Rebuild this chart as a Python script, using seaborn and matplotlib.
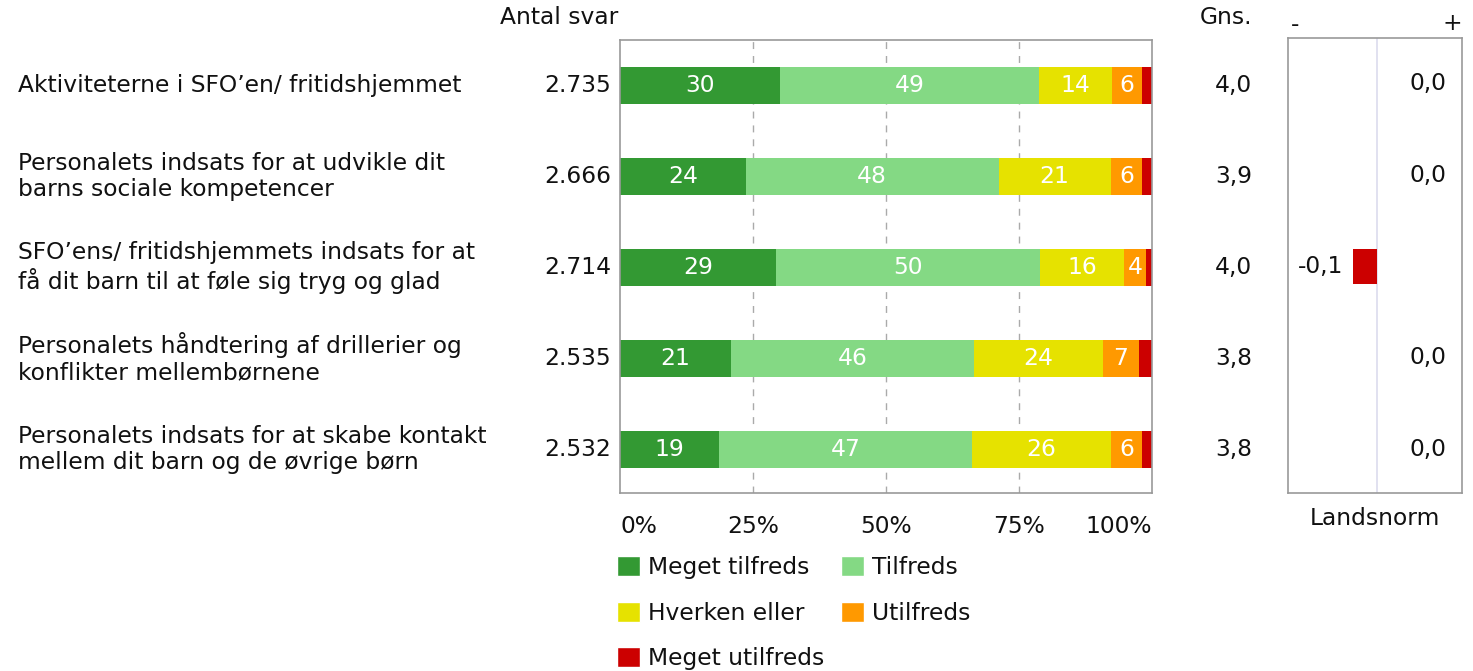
import numpy as np
import pandas as pd
import seaborn as sns
import matplotlib.pyplot as plt
import matplotlib.transforms as mtransforms
from matplotlib.patches import Patch

sns.set_style("white")
plt.rcParams['font.family'] = ['DejaVu Sans']
plt.rcParams['text.color'] = '#111111'
plt.rcParams['xtick.color'] = '#111111'
plt.rcParams['axes.labelcolor'] = '#111111'

# data
questions = [
    "Aktiviteterne i SFO\u2019en/ fritidshjemmet",
    "Personalets indsats for at udvikle dit\nbarns sociale kompetencer",
    "SFO\u2019ens/ fritidshjemmets indsats for at\nf\u00e5 dit barn til at f\u00f8le sig tryg og glad",
    "Personalets h\u00e5ndtering af drillerier og\nkonflikter mellemb\u00f8rnene",
    "Personalets indsats for at skabe kontakt\nmellem dit barn og de \u00f8vrige b\u00f8rn",
]
categories = ["Meget tilfreds", "Tilfreds", "Hverken eller", "Utilfreds", "Meget utilfreds"]
meget_tilfreds = [30.0, 23.6, 29.3, 20.8, 18.7]
tilfreds = [48.8, 47.6, 49.6, 45.8, 47.4]
hverken = [13.6, 21.0, 15.9, 24.2, 26.2]
utilfreds = [5.8, 6.0, 4.1, 6.7, 5.9]
meget_utilfreds = [1.8, 1.8, 1.1, 2.5, 1.8]
antal_svar = [2735, 2666, 2714, 2535, 2532]
gns = [4.0, 3.9, 4.0, 3.8, 3.8]
landsnorm = [0.0, 0.0, -0.1, 0.0, 0.0]

colors = ["#339933", "#84d984", "#e6e200", "#ff9900", "#cc0000"]
ticks = [0, 25, 50, 75, 100]
tick_labels = ["0%", "25%", "50%", "75%", "100%"]

FS = 16.8
W, H = 1473, 671
fig = plt.figure(figsize=(W / 100, H / 100), dpi=100)

def fx(px):
    return px / W

def fy(py):
    return 1 - py / H

ax = fig.add_axes([fx(620), fy(493), fx(1152) - fx(620), fy(40) - fy(493)])
axn = fig.add_axes([fx(1288), fy(493), fx(1462) - fx(1288), fy(38) - fy(493)])

series = [meget_tilfreds, tilfreds, hverken, utilfreds, meget_utilfreds]
df = pd.DataFrame({c: s for c, s in zip(categories, series)})
df["q"] = [f"q{i}" for i in range(len(questions))]
cum = df[categories].cumsum(axis=1)

# stacked bars: draw cumulative totals from the longest back to the front
for cat, col in reversed(list(zip(categories, colors))):
    sns.barplot(x=cum[cat], y=df["q"], orient="h", color=col, saturation=1,
                width=0.4, ax=ax, linewidth=0)

for i in range(len(df)):
    for cat in categories:
        v = df.loc[i, cat]
        if v >= 3:
            ax.text(cum.loc[i, cat] - v / 2, i, f"{int(round(v))}", ha="center",
                    va="center", color="white", fontsize=FS)

ax.set_xlim(0, 100)
ax.set_ylim(4.48, -0.5)
ax.set_xlabel("")
ax.set_ylabel("")
ax.set_yticks([])
ax.set_xticks(ticks)
ax.set_xticklabels(tick_labels, fontsize=FS)
for lab, ha in zip(ax.get_xticklabels(), ["left", "center", "center", "center", "right"]):
    lab.set_ha(ha)
ax.tick_params(axis="x", length=0, pad=16)
for t in ticks[1:-1]:
    ax.axvline(t, color="#aaaaaa", linestyle=(0, (5, 5)), linewidth=1, zorder=0)
for sp in ax.spines.values():
    sp.set_color("#999999")
    sp.set_linewidth(1.2)

# landsnorm panel
ln = pd.DataFrame({"q": df["q"], "diff": landsnorm})
sns.barplot(data=ln, x="diff", y="q", orient="h", color="#cc0000", saturation=1,
            width=0.38, ax=axn, linewidth=0)
axn.set_xlim(-0.37, 0.355)
axn.set_ylim(4.48, -0.5)
axn.axvline(0, color="#dcdcee", linewidth=1.2, zorder=0)
axn.set_xticks([])
axn.set_yticks([])
axn.set_xlabel("Landsnorm", fontsize=FS, labelpad=10)
axn.set_ylabel("")
for sp in axn.spines.values():
    sp.set_color("#999999")
    sp.set_linewidth(1.2)
for i, v in enumerate(landsnorm):
    txt = f"{v:.1f}".replace(".", ",")
    if v < 0:
        axn.text(v - 0.04, i, txt, ha="right", va="center", fontsize=FS)
    else:
        axn.text(0.29, i, txt, ha="right", va="center", fontsize=FS)
fig.text(fx(1295), fy(24), "-", ha="center", va="center", fontsize=FS)
fig.text(fx(1452), fy(24), "+", ha="center", va="center", fontsize=FS)

# text columns
tr = mtransforms.blended_transform_factory(fig.transFigure, ax.transData)
for i, q in enumerate(questions):
    ax.text(fx(18), i, q, transform=tr, ha="left", va="center", fontsize=FS,
            linespacing=1.2)
    ax.text(fx(611), i, f"{antal_svar[i]:,}".replace(",", "."), transform=tr,
            ha="right", va="center", fontsize=FS)
    ax.text(fx(1252), i, f"{gns[i]:.1f}".replace(".", ","), transform=tr,
            ha="right", va="center", fontsize=FS)
fig.text(fx(559), fy(18), "Antal svar", ha="center", va="center", fontsize=FS)
fig.text(fx(1226), fy(18), "Gns.", ha="center", va="center", fontsize=FS)

# legend, filled row by row
handles = [Patch(facecolor=c, label=l) for c, l in zip(colors, categories)]
order = [0, 2, 4, 1, 3]
fig.legend([handles[k] for k in order], [categories[k] for k in order], ncol=2,
           loc="upper left", bbox_to_anchor=(fx(608), fy(547)), frameon=False,
           fontsize=FS, handlelength=0.95, handleheight=0.95, handletextpad=0.35,
           columnspacing=0.75, labelspacing=0.95, borderaxespad=0)

fig.savefig("out.png", dpi=100)
